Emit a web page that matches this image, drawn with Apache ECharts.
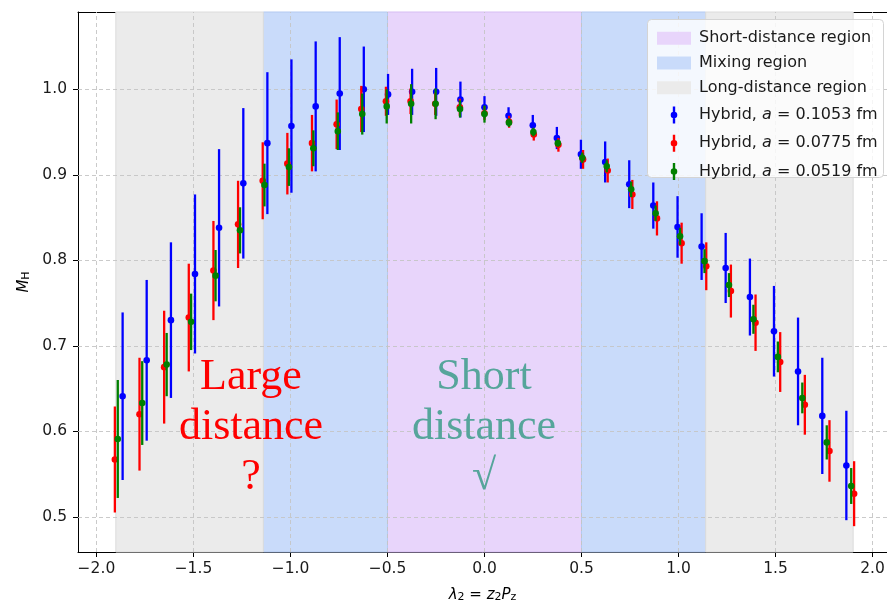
<!DOCTYPE html>
<html><head><meta charset="utf-8">
<script src="https://cdn.jsdelivr.net/npm/echarts@6/dist/echarts.min.js"></script>
<style>html,body{margin:0;padding:0;background:#fff}#c{width:887px;height:603px}</style>
</head><body><div id="c"></div>
<script>
// ---- tick labels ----
const xTicks = [-2.0, -1.5, -1.0, -0.5, 0.0, 0.5, 1.0, 1.5, 2.0];
const yTicks = [0.5, 0.6, 0.7, 0.8, 0.9, 1.0];

// ---- shaded regions (lambda ranges) ----
const regionNames = ['Short-distance region', 'Mixing region', 'Long-distance region'];
const shortRanges = [[-0.5, 0.5]];
const mixingRanges = [[-1.14, -0.5], [0.5, 1.14]];
const longRanges = [[-1.9, -1.14], [1.14, 1.9]];

// ---- series ----
const seriesNames = ['Hybrid, a = 0.1053 fm', 'Hybrid, a = 0.0775 fm', 'Hybrid, a = 0.0519 fm'];

const blueX = [-1.865,-1.741,-1.616,-1.492,-1.368,-1.243,-1.119,-0.995,-0.870,-0.746,-0.622,-0.497,-0.373,-0.249,-0.124,0,0.124,0.249,0.373,0.497,0.622,0.746,0.870,0.995,1.119,1.243,1.368,1.492,1.616,1.741,1.865];
const blueY = [0.641,0.683,0.730,0.784,0.838,0.890,0.937,0.957,0.980,0.995,1.000,0.994,0.997,0.997,0.988,0.979,0.969,0.958,0.943,0.924,0.915,0.889,0.864,0.839,0.816,0.791,0.757,0.717,0.670,0.618,0.560];
const blueErr = [0.098,0.094,0.091,0.093,0.092,0.088,0.083,0.078,0.076,0.066,0.050,0.024,0.027,0.028,0.021,0.013,0.010,0.012,0.013,0.017,0.024,0.028,0.027,0.036,0.039,0.041,0.045,0.053,0.063,0.068,0.064];

const redX = [-1.905,-1.778,-1.651,-1.524,-1.397,-1.270,-1.143,-1.016,-0.889,-0.762,-0.635,-0.508,-0.381,-0.254,-0.127,0,0.127,0.254,0.381,0.508,0.635,0.762,0.889,1.016,1.143,1.270,1.397,1.524,1.651,1.778,1.905];
const redY = [0.567,0.620,0.675,0.733,0.788,0.842,0.893,0.913,0.937,0.959,0.977,0.986,0.986,0.983,0.979,0.972,0.962,0.947,0.935,0.918,0.905,0.877,0.849,0.820,0.793,0.764,0.727,0.681,0.631,0.577,0.527];
const redErr = [0.062,0.066,0.066,0.063,0.058,0.051,0.045,0.036,0.033,0.029,0.027,0.017,0.015,0.013,0.010,0.008,0.007,0.007,0.008,0.011,0.014,0.017,0.020,0.024,0.028,0.031,0.033,0.035,0.035,0.036,0.038];

const greenX = [-1.890,-1.764,-1.638,-1.512,-1.386,-1.260,-1.134,-1.008,-0.882,-0.756,-0.630,-0.504,-0.378,-0.252,-0.126,0,0.126,0.252,0.378,0.504,0.630,0.756,0.882,1.008,1.134,1.260,1.386,1.512,1.638,1.764,1.890];
const greenY = [0.591,0.633,0.678,0.728,0.782,0.835,0.888,0.909,0.931,0.951,0.971,0.980,0.983,0.983,0.977,0.971,0.961,0.950,0.937,0.920,0.910,0.883,0.855,0.828,0.799,0.771,0.731,0.687,0.639,0.587,0.536];
const greenErr = [0.069,0.049,0.037,0.033,0.030,0.027,0.025,0.022,0.021,0.022,0.024,0.020,0.023,0.018,0.010,0.010,0.005,0.005,0.004,0.006,0.007,0.009,0.009,0.010,0.014,0.014,0.017,0.018,0.018,0.020,0.021];

// ---- styling ----
const COLORS = ['#0000ff', '#ff0000', '#008000'];
const REGION_FILL = ['#e8d5fb', '#c9dbfa', '#ebebeb'];
const REGION_EDGE = ['#d6bdf3', '#b3c9f0', '#dcdcdc'];
const FONT = 'DejaVu Sans';

const chart = echarts.init(document.getElementById('c'), null, {renderer: 'canvas'});

function zip3(xs, ys, es) { return xs.map((x, i) => [x, ys[i], es[i]]); }
function errRender(color) {
  return function (params, api) {
    const x = api.value(0), y = api.value(1), e = api.value(2);
    const p = api.coord([x, y]);
    const lo = api.coord([x, y - e]);
    const hi = api.coord([x, y + e]);
    return {
      type: 'group',
      children: [
        {type: 'line', shape: {x1: lo[0], y1: lo[1], x2: hi[0], y2: hi[1]}, style: {stroke: color, lineWidth: 2.3}},
        {type: 'circle', shape: {cx: p[0], cy: p[1], r: 3.3}, style: {fill: color}}
      ]
    };
  };
}
function areaData(ranges) { return ranges.map(r => [{xAxis: r[0]}, {xAxis: r[1]}]); }
function fmt(v) { return (v < 0 ? '\u2212' : '') + Math.abs(v).toFixed(1); }

const patchIcon = 'path://M0,0L34,0L34,13L0,13ZM41,13L40.99,13L41,12.99Z';
// bar + dot drawn with the same winding so the overlap stays filled
const errIcon = 'path://M0,0L0.01,0L0,0.01ZM15.8,0L18.2,0L18.2,17L15.8,17ZM13.7,8.5A3.3,3.3 0 1 1 20.3,8.5A3.3,3.3 0 1 1 13.7,8.5ZM41,17L40.99,17L41,16.99Z';

const regionSeries = [shortRanges, mixingRanges, longRanges].map((ranges, i) => ({
  name: regionNames[i],
  type: 'line',
  data: [],
  color: REGION_FILL[i],
  z: 1,
  silent: true,
  markArea: {
    silent: true, z: 1,
    itemStyle: {color: REGION_FILL[i], borderColor: REGION_EDGE[i], borderWidth: 1},
    data: areaData(ranges)
  }
}));

const gridSeries = {
  type: 'line', data: [], z: 2, silent: true,
  markLine: {
    silent: true, z: 2, symbol: 'none', label: {show: false}, animation: false,
    lineStyle: {type: [4, 3], color: '#c4c4c4', width: 0.9},
    data: xTicks.map(v => ({xAxis: v})).concat(yTicks.map(v => ({yAxis: v})))
  }
};

const errSeries = [[blueX, blueY, blueErr], [redX, redY, redErr], [greenX, greenY, greenErr]].map((d, i) => ({
  name: seriesNames[i],
  type: 'custom',
  color: COLORS[i],
  itemStyle: {color: COLORS[i]},
  z: 3 + i,
  renderItem: errRender(COLORS[i]),
  encode: {x: 0, y: 1},
  data: zip3(d[0], d[1], d[2])
}));

const richAxis = {
  i: {fontStyle: 'italic', fontSize: 15, fontFamily: FONT, padding: [0, 0, 4, 0]},
  n: {fontSize: 15, fontFamily: FONT, padding: [0, 0, 4, 0]},
  s: {fontSize: 11, fontFamily: FONT}
};

const option = {
  animation: false,
  backgroundColor: '#ffffff',
  grid: {left: 78, right: 0, top: 12, bottom: 51, containLabel: false, outerBoundsMode: 'none'},
  xAxis: [{
    type: 'value', min: -2.095, max: 2.0745,
    axisLine: {show: true, onZero: false, lineStyle: {color: '#000', width: 1}},
    axisTick: {show: true, inside: false, length: 5, lineStyle: {color: '#000'}, customValues: xTicks},
    axisLabel: {customValues: xTicks, formatter: fmt, color: '#1a1a1a', fontSize: 15.5, fontFamily: FONT, margin: 9},
    splitLine: {show: false},
    name: '{i|λ}{s|2}{n| = }{i|z}{s|2}{i|P}{s|z}',
    nameLocation: 'middle', nameGap: 36,
    nameTextStyle: {color: '#000', rich: richAxis}
  }, {
    type: 'value', position: 'top', min: -2.095, max: 2.0745,
    axisLine: {show: true, onZero: false, lineStyle: {color: '#000', width: 1}},
    axisTick: {show: false}, axisLabel: {show: false}, splitLine: {show: false}
  }],
  yAxis: {
    type: 'value', min: 0.4588, max: 1.0904,
    axisLine: {show: true, onZero: false, lineStyle: {color: '#000', width: 1}},
    axisTick: {show: true, inside: false, length: 5, lineStyle: {color: '#000'}, customValues: yTicks},
    axisLabel: {customValues: yTicks, formatter: fmt, color: '#1a1a1a', fontSize: 15.5, fontFamily: FONT, margin: 11},
    splitLine: {show: false},
    name: '{i|M}{s|H}',
    nameLocation: 'middle', nameGap: 26, nameRotate: 90,
    nameTextStyle: {color: '#000', rich: richAxis}
  },
  legend: [{
    orient: 'vertical', left: 652, top: 25.3, z: 12,
    itemWidth: 41, itemHeight: 13, itemGap: 8.7,
    data: regionNames.map((n, i) => ({name: n, icon: patchIcon,
      itemStyle: {color: REGION_FILL[i], borderWidth: 0}})),
    textStyle: {fontSize: 16, fontFamily: FONT, color: '#1a1a1a', lineHeight: 16, padding: [0, 0, 0, -4]},
    selectedMode: false
  }, {
    orient: 'vertical', left: 652, top: 101.5, z: 12,
    itemWidth: 41, itemHeight: 17, itemGap: 11.3,
    data: seriesNames.map((n, i) => ({name: n, icon: errIcon,
      itemStyle: {color: COLORS[i], borderWidth: 0}})),
    formatter: n => n.replace(' a ', ' {i|a} '),
    textStyle: {fontSize: 16, fontFamily: FONT, color: '#1a1a1a', lineHeight: 16, padding: [0, 0, 0, -4],
      rich: {i: {fontStyle: 'italic', fontSize: 16, fontFamily: FONT, color: '#1a1a1a'}}},
    selectedMode: false
  }],
  graphic: [
    {type: 'rect', left: 647, top: 19, z: 10, shape: {width: 236, height: 158, r: 4},
      style: {fill: 'rgba(255,255,255,0.8)', stroke: '#d4d4d4', lineWidth: 1}},
    {type: 'text', z: 9, style: {
      text: 'Large\ndistance\n?', x: 251, y: 352, textAlign: 'center', fill: '#ff0000',
      font: '44px "Liberation Serif"', lineHeight: 50}},
    {type: 'text', z: 9, style: {
      text: 'Short\ndistance\n\u221A', x: 484, y: 352, textAlign: 'center', fill: '#56a59b',
      font: '44px "Liberation Serif"', lineHeight: 50}}
  ],
  series: regionSeries.concat([gridSeries]).concat(errSeries)
};
chart.setOption(option);
</script>
</body></html>
